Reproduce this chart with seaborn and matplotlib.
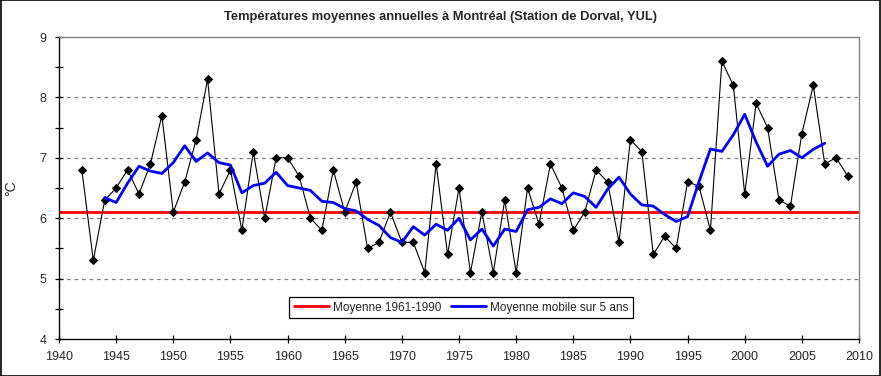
import numpy as np
import pandas as pd
import matplotlib
matplotlib.use("Agg")
import matplotlib.pyplot as plt
from matplotlib.ticker import MultipleLocator
import seaborn as sns

sns.set_style("white")
plt.rcParams['font.family'] = ['Liberation Sans', 'DejaVu Sans']

# Annual mean temperatures, Dorval (YUL)
years = list(range(1942, 2010))
temps = [6.8, 5.3, 6.3, 6.5, 6.8, 6.4, 6.9, 7.7, 6.1, 6.6,
         7.3, 8.3, 6.4, 6.8, 5.8, 7.1, 6.0, 7.0, 7.0, 6.7,
         6.0, 5.8, 6.8, 6.1, 6.6, 5.5, 5.6, 6.1, 5.6, 5.6,
         5.1, 6.9, 5.4, 6.5, 5.1, 6.1, 5.1, 6.3, 5.1, 6.5,
         5.9, 6.9, 6.5, 5.8, 6.1, 6.8, 6.6, 5.6, 7.3, 7.1,
         5.4, 5.7, 5.5, 6.6, 6.53, 5.8, 8.6, 8.2, 6.4, 7.9,
         7.5, 6.3, 6.2, 7.4, 8.2, 6.9, 7.0, 6.7]
normal_1961_1990 = 6.1

df = pd.DataFrame({'annee': years, 'temp': temps})
# centred 5-year moving average
df['moy5'] = df['temp'].rolling(5, center=True).mean()

fig = plt.figure(figsize=(8.81, 3.76), dpi=100)
ax = fig.add_axes([59 / 881, 37 / 376, 800 / 881, 302 / 376])

# grid lines first so the data sits on top
for v in [5, 6, 7, 8]:
    ax.axhline(v, color='#808080', lw=0.9, ls=(0, (3, 3)), zorder=0)

ax.axhline(normal_1961_1990, color='#ff0000', lw=2, zorder=2, label='Moyenne 1961-1990')
sns.lineplot(data=df, x='annee', y='temp', ax=ax, color='black', lw=0.8,
             marker='D', markersize=4.2, markeredgecolor='black', zorder=3, legend=False)
sns.lineplot(data=df.dropna(), x='annee', y='moy5', ax=ax, color='#0000ff', lw=2,
             zorder=4, label='Moyenne mobile sur 5 ans')

ax.set_xlim(1940, 2010)
ax.set_ylim(4, 9)
ax.xaxis.set_major_locator(MultipleLocator(5))
ax.yaxis.set_major_locator(MultipleLocator(1))
ax.yaxis.set_minor_locator(MultipleLocator(0.5))
ax.tick_params(axis='both', which='both', direction='inout', length=6, width=0.9,
               color='black', labelsize=9, left=True, bottom=True)
ax.tick_params(axis='x', which='major', pad=6)
ax.tick_params(axis='y', which='major', pad=6)
ax.tick_params(axis='y', which='minor', length=6)

for s in ['left', 'bottom']:
    ax.spines[s].set_color('black')
    ax.spines[s].set_linewidth(1)
for s in ['top', 'right']:
    ax.spines[s].set_color('#808080')
    ax.spines[s].set_linewidth(1)

ax.set_xlabel('')
ax.set_ylabel('°C', fontsize=10)
ax.yaxis.set_label_coords(-41 / 800, 0.5)

leg = ax.legend(loc='center', bbox_to_anchor=(0.5025, 0.104), ncol=2, fontsize=8.5,
                frameon=True, fancybox=False, framealpha=1, edgecolor='black',
                handlelength=3, handletextpad=0.3, columnspacing=0.8,
                borderpad=0.4)
leg.get_frame().set_linewidth(0.9)

fig.text(0.5, 1 - 17 / 376, 'Températures moyennes annuelles à Montréal (Station de Dorval, YUL)',
         ha='center', va='center', fontsize=9.3, fontweight='bold')

# outer chart border
fig.patches.append(plt.Rectangle((0.0008, 0.0013), 0.9984, 0.9974, transform=fig.transFigure,
                                 fill=False, edgecolor='black', lw=1.2))

fig.savefig('out.png', dpi=100)
